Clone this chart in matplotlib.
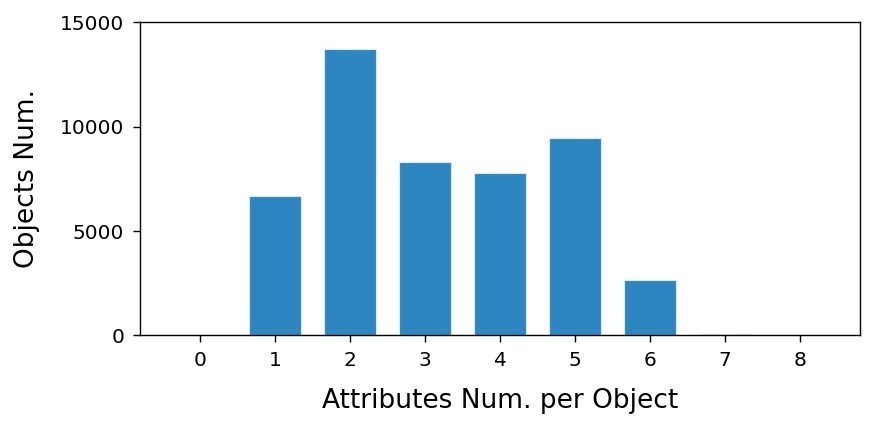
import matplotlib
matplotlib.use("Agg")
import matplotlib.pyplot as plt

attrs = [0, 1, 2, 3, 4, 5, 6, 7, 8]
objects = [8, 6680, 13710, 8300, 7800, 9480, 2640, 60, 5]

fig = plt.figure(figsize=(8.75, 4.3), dpi=100)
ax = fig.add_axes([0.16, 0.22, 0.823, 0.728])
ax.bar(attrs, objects, width=0.7, color='#2e86c1', edgecolor='#d6eaf8', linewidth=0.8)
ax.set_xlim(-0.8, 8.8)
ax.set_ylim(0, 15000)
ax.set_xticks(attrs)
ax.set_yticks([0, 5000, 10000, 15000])
ax.tick_params(labelsize=14.5, length=5, width=1, pad=6.5)
for s in ax.spines.values():
    s.set_linewidth(1)
ax.set_xlabel('Attributes Num. per Object', fontsize=19, labelpad=13)
ax.set_ylabel('Objects Num.', fontsize=19, labelpad=14)
fig.savefig('out.png', dpi=100)
